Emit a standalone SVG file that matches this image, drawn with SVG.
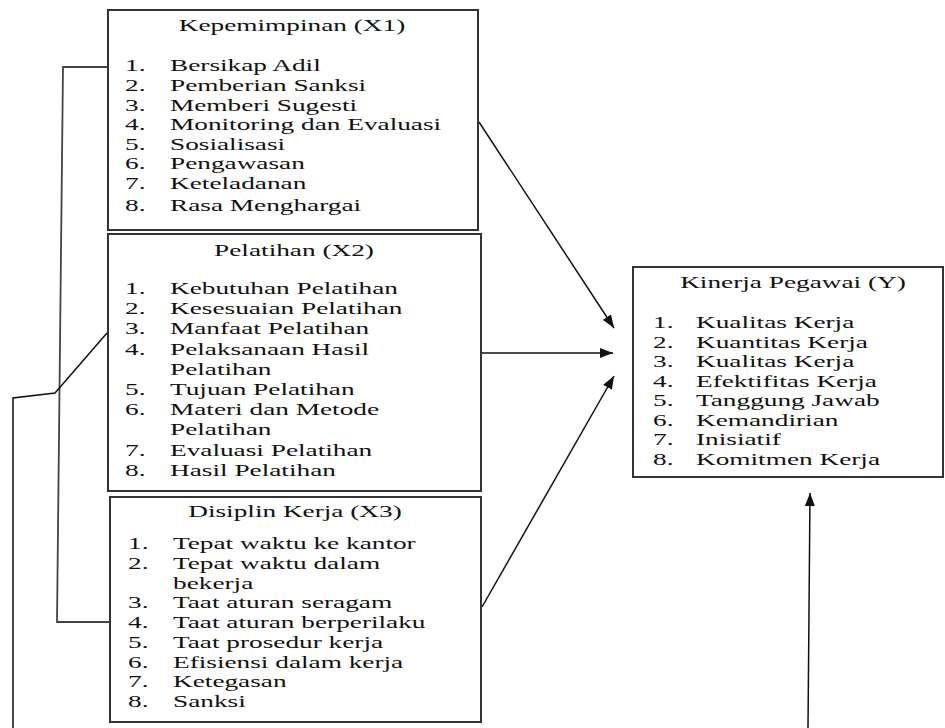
<svg xmlns="http://www.w3.org/2000/svg" width="945" height="728" viewBox="0 0 945 728">
<style>
.t{font-family:"Liberation Serif","Times New Roman",serif;font-size:17.5px;fill:#111}
.m{text-anchor:middle}
.box{fill:#fff;stroke:#333;stroke-width:2}
.c{fill:none;stroke:#111;stroke-width:1.5}
.b{fill:none;stroke:#444;stroke-width:1.8}
</style>
<defs>
<marker id="ah" markerUnits="userSpaceOnUse" markerWidth="14" markerHeight="10" refX="13" refY="5" orient="auto">
<path d="M0,0 L13,5 L0,10 z" fill="#111"/>
</marker>
</defs>
<rect width="945" height="728" fill="#fff"/>
<g id="connectors">
<path class="c" d="M479,122 L614,328" marker-end="url(#ah)"/>
<path class="c" d="M482,353 L613,353" marker-end="url(#ah)"/>
<path class="c" d="M482,607 L614,376" marker-end="url(#ah)"/>
<path class="c" d="M808,728 L810,493" marker-end="url(#ah)"/>
<path class="b" d="M110,67 L63,67 L57,622 L110,622"/>
<path class="c" d="M107,333 L55,393 L13,398 L13,728"/>
</g>
<g id="x1">
<rect class="box" x="108" y="10" width="370" height="220"/>
<text class="t m" transform="translate(292,31) scale(1.56,1)">Kepemimpinan  (X1)</text>
<text class="t" transform="translate(125,71) scale(1.56,1)">1.</text><text class="t" transform="translate(170,71) scale(1.56,1)">Bersikap Adil</text>
<text class="t" transform="translate(125,91) scale(1.56,1)">2.</text><text class="t" transform="translate(170,91) scale(1.56,1)">Pemberian Sanksi</text>
<text class="t" transform="translate(125,110.5) scale(1.56,1)">3.</text><text class="t" transform="translate(170,110.5) scale(1.56,1)">Memberi Sugesti</text>
<text class="t" transform="translate(125,130) scale(1.56,1)">4.</text><text class="t" transform="translate(170,130) scale(1.56,1)">Monitoring dan Evaluasi</text>
<text class="t" transform="translate(125,149.5) scale(1.56,1)">5.</text><text class="t" transform="translate(170,149.5) scale(1.56,1)">Sosialisasi</text>
<text class="t" transform="translate(125,169) scale(1.56,1)">6.</text><text class="t" transform="translate(170,169) scale(1.56,1)">Pengawasan</text>
<text class="t" transform="translate(125,188.5) scale(1.56,1)">7.</text><text class="t" transform="translate(170,188.5) scale(1.56,1)">Keteladanan</text>
<text class="t" transform="translate(125,211) scale(1.56,1)">8.</text><text class="t" transform="translate(170,211) scale(1.56,1)">Rasa Menghargai</text>
</g>
<g id="x2">
<rect class="box" x="108" y="234" width="373" height="257"/>
<text class="t m" transform="translate(294,256) scale(1.56,1)">Pelatihan (X2)</text>
<text class="t" transform="translate(125,294) scale(1.56,1)">1.</text><text class="t" transform="translate(170,294) scale(1.56,1)">Kebutuhan Pelatihan</text>
<text class="t" transform="translate(125,314.2) scale(1.56,1)">2.</text><text class="t" transform="translate(170,314.2) scale(1.56,1)">Kesesuaian Pelatihan</text>
<text class="t" transform="translate(125,334.4) scale(1.56,1)">3.</text><text class="t" transform="translate(170,334.4) scale(1.56,1)">Manfaat Pelatihan</text>
<text class="t" transform="translate(125,354.6) scale(1.56,1)">4.</text><text class="t" transform="translate(170,354.6) scale(1.56,1)">Pelaksanaan Hasil</text>
<text class="t" transform="translate(170,374.8) scale(1.56,1)">Pelatihan</text>
<text class="t" transform="translate(125,395) scale(1.56,1)">5.</text><text class="t" transform="translate(170,395) scale(1.56,1)">Tujuan Pelatihan</text>
<text class="t" transform="translate(125,415.2) scale(1.56,1)">6.</text><text class="t" transform="translate(170,415.2) scale(1.56,1)">Materi dan Metode</text>
<text class="t" transform="translate(170,435.4) scale(1.56,1)">Pelatihan</text>
<text class="t" transform="translate(125,455.6) scale(1.56,1)">7.</text><text class="t" transform="translate(170,455.6) scale(1.56,1)">Evaluasi Pelatihan</text>
<text class="t" transform="translate(125,476) scale(1.56,1)">8.</text><text class="t" transform="translate(170,476) scale(1.56,1)">Hasil Pelatihan</text>
</g>
<g id="x3">
<rect class="box" x="110" y="497" width="371" height="225"/>
<text class="t m" transform="translate(295,517) scale(1.56,1)">Disiplin Kerja (X3)</text>
<text class="t" transform="translate(128,549) scale(1.56,1)">1.</text><text class="t" transform="translate(173,549) scale(1.56,1)">Tepat waktu ke kantor</text>
<text class="t" transform="translate(128,568.8) scale(1.56,1)">2.</text><text class="t" transform="translate(173,568.8) scale(1.56,1)">Tepat waktu dalam</text>
<text class="t" transform="translate(173,588.5) scale(1.56,1)">bekerja</text>
<text class="t" transform="translate(128,608.3) scale(1.56,1)">3.</text><text class="t" transform="translate(173,608.3) scale(1.56,1)">Taat aturan seragam</text>
<text class="t" transform="translate(128,628) scale(1.56,1)">4.</text><text class="t" transform="translate(173,628) scale(1.56,1)">Taat aturan berperilaku</text>
<text class="t" transform="translate(128,647.8) scale(1.56,1)">5.</text><text class="t" transform="translate(173,647.8) scale(1.56,1)">Taat prosedur kerja</text>
<text class="t" transform="translate(128,667.5) scale(1.56,1)">6.</text><text class="t" transform="translate(173,667.5) scale(1.56,1)">Efisiensi dalam kerja</text>
<text class="t" transform="translate(128,687.3) scale(1.56,1)">7.</text><text class="t" transform="translate(173,687.3) scale(1.56,1)">Ketegasan</text>
<text class="t" transform="translate(128,707) scale(1.56,1)">8.</text><text class="t" transform="translate(173,707) scale(1.56,1)">Sanksi</text>
</g>
<g id="y">
<rect class="box" x="633" y="267" width="310" height="210"/>
<text class="t m" transform="translate(793,288) scale(1.56,1)">Kinerja Pegawai (Y)</text>
<text class="t" transform="translate(653,328) scale(1.56,1)">1.</text><text class="t" transform="translate(696,328) scale(1.56,1)">Kualitas Kerja</text>
<text class="t" transform="translate(653,347.6) scale(1.56,1)">2.</text><text class="t" transform="translate(696,347.6) scale(1.56,1)">Kuantitas Kerja</text>
<text class="t" transform="translate(653,367.1) scale(1.56,1)">3.</text><text class="t" transform="translate(696,367.1) scale(1.56,1)">Kualitas Kerja</text>
<text class="t" transform="translate(653,386.7) scale(1.56,1)">4.</text><text class="t" transform="translate(696,386.7) scale(1.56,1)">Efektifitas Kerja</text>
<text class="t" transform="translate(653,406.3) scale(1.56,1)">5.</text><text class="t" transform="translate(696,406.3) scale(1.56,1)">Tanggung Jawab</text>
<text class="t" transform="translate(653,425.9) scale(1.56,1)">6.</text><text class="t" transform="translate(696,425.9) scale(1.56,1)">Kemandirian</text>
<text class="t" transform="translate(653,445.4) scale(1.56,1)">7.</text><text class="t" transform="translate(696,445.4) scale(1.56,1)">Inisiatif</text>
<text class="t" transform="translate(653,465) scale(1.56,1)">8.</text><text class="t" transform="translate(696,465) scale(1.56,1)">Komitmen Kerja</text>
</g>
</svg>
